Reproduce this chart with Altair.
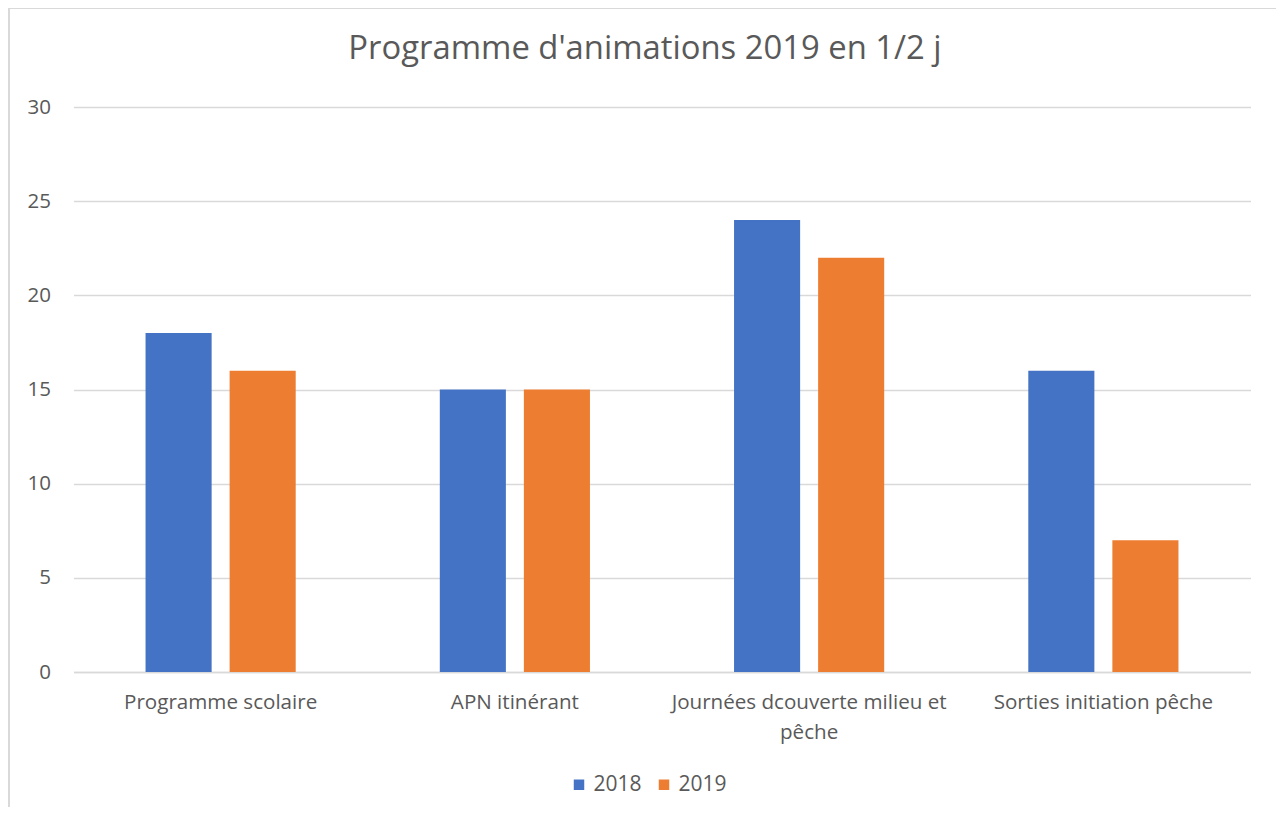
import altair as alt
import pandas as pd

categories = ["Programme scolaire", "APN itinérant", "Journées dcouverte milieu et pêche", "Sorties initiation pêche"]
years = ["2018", "2019"]
values_2018 = [18, 15, 24, 16]
values_2019 = [16, 15, 22, 7]
colors = ["#4472C4", "#ED7D31"]

rows = []
for c, v in zip(categories, values_2018):
    rows.append({"cat": c, "year": "2018", "value": v})
for c, v in zip(categories, values_2019):
    rows.append({"cat": c, "year": "2019", "value": v})
df = pd.DataFrame(rows)

FONT = "Open Sans"
TXT = "#595959"

label_expr = (
    "datum.value == 'Journées dcouverte milieu et pêche' ? "
    "['Journées dcouverte milieu et', 'pêche'] : datum.value"
)

bars = alt.Chart(df).mark_bar().encode(
    x=alt.X("cat:N", sort=categories, title=None,
            scale=alt.Scale(paddingInner=0, paddingOuter=0),
            axis=alt.Axis(labelAngle=0, labelExpr=label_expr, labelPadding=20,
                          labelFontSize=20.6, labelColor=TXT, labelFont=FONT,
                          labelLineHeight=30, labelBaseline="top", labelLimit=0,
                          ticks=False, domain=True, domainColor="#d9d9d9", domainWidth=1.5,
                          grid=False)),
    xOffset=alt.XOffset("year:N", sort=years,
                        scale=alt.Scale(paddingInner=0.214, paddingOuter=0.857)),
    y=alt.Y("value:Q", title=None,
            scale=alt.Scale(domain=[0, 30]),
            axis=alt.Axis(values=[0, 5, 10, 15, 20, 25, 30], labelFontSize=20.5, labelColor=TXT,
                          labelFont=FONT, labelPadding=23, ticks=False, domain=False,
                          gridColor="#d9d9d9", gridWidth=1.5)),
    color=alt.Color("year:N", sort=years, title=None,
                    scale=alt.Scale(domain=years, range=colors),
                    legend=alt.Legend(orient="none", direction="horizontal",
                                      legendX=495, legendY=667,
                                      symbolType="square", symbolSize=110,
                                      symbolStrokeWidth=0,
                                      labelFontSize=21, labelColor=TXT, labelFont=FONT,
                                      columnPadding=11, labelOffset=4)),
)

border = alt.Chart(df).mark_rect(filled=False, fillOpacity=0, stroke="#d9d9d9", strokeWidth=2).encode(
    x=alt.value(-64.5), x2=alt.value(1206.5), y=alt.value(-99), y2=alt.value(730)
)

chart = alt.layer(border, bars).properties(
    width=1177, height=565,
    title=alt.TitleParams("Programme d'animations 2019 en 1/2 j", fontSize=32.8, font=FONT,
                          color=TXT, fontWeight="normal", anchor="middle", dx=-17, offset=-59),
    autosize=alt.AutoSizeParams(type="none"),
    padding={"left": 65.5, "top": 99, "right": 25, "bottom": 135},
    background="white",
).configure_view(strokeWidth=0)

chart.save("out.html", embed_options={"renderer": "svg", "actions": False})
